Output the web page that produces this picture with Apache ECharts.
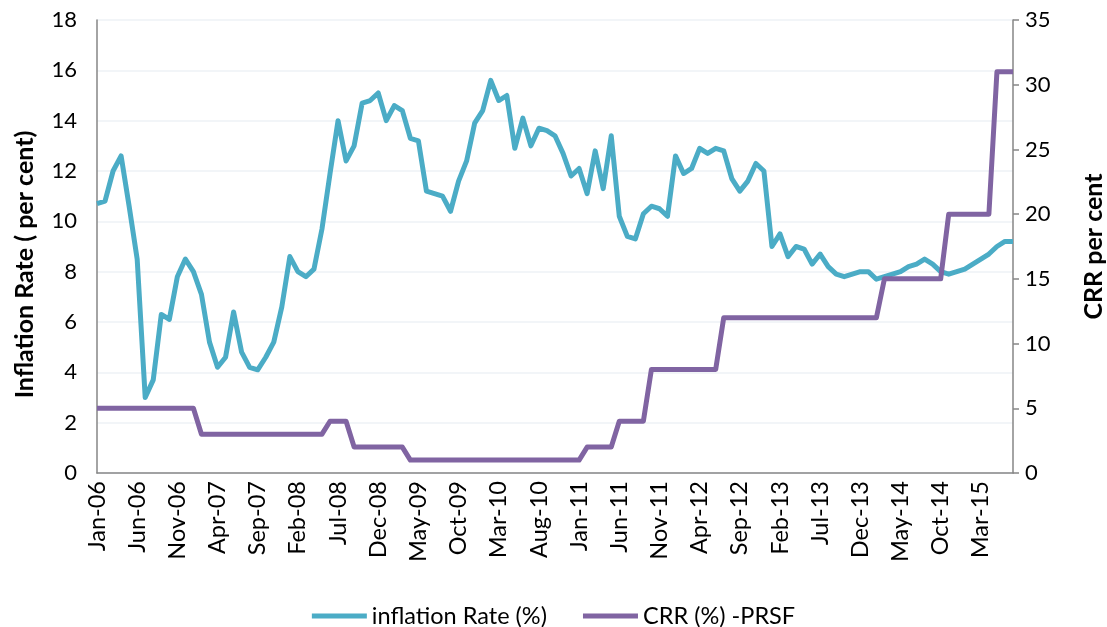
<!DOCTYPE html>
<html>
<head>
<meta charset="utf-8">
<script src="https://cdn.jsdelivr.net/npm/echarts@6/dist/echarts.min.js"></script>
<style>
html,body{margin:0;padding:0;background:#fff;}
#chart{width:1107px;height:627px;}
</style>
</head>
<body>
<div id="chart"></div>
<script>
const monthNames = ['Jan','Feb','Mar','Apr','May','Jun','Jul','Aug','Sep','Oct','Nov','Dec'];
const startYear = 2006;
const monthCount = 115; // Jan-06 .. Jul-15
const categories = [];
for (let i = 0; i < monthCount; i++) {
  const y = startYear + Math.floor(i / 12);
  categories.push(monthNames[i % 12] + '-' + String(y % 100).padStart(2, '0'));
}

const inflationRate = [
  10.7, 10.8, 12.0, 12.6, 10.6, 8.5, 3.0, 3.7, 6.3, 6.1, 7.8, 8.5,
  8.0, 7.1, 5.2, 4.2, 4.6, 6.4, 4.8, 4.2, 4.1, 4.6, 5.2, 6.6,
  8.6, 8.0, 7.8, 8.1, 9.7, 11.9, 14.0, 12.4, 13.0, 14.7, 14.8, 15.1,
  14.0, 14.6, 14.4, 13.3, 13.2, 11.2, 11.1, 11.0, 10.4, 11.6, 12.4, 13.9,
  14.4, 15.6, 14.8, 15.0, 12.9, 14.1, 13.0, 13.7, 13.6, 13.4, 12.7, 11.8,
  12.1, 11.1, 12.8, 11.3, 13.4, 10.2, 9.4, 9.3, 10.3, 10.6, 10.5, 10.2,
  12.6, 11.9, 12.1, 12.9, 12.7, 12.9, 12.8, 11.7, 11.2, 11.6, 12.3, 12.0,
  9.0, 9.5, 8.6, 9.0, 8.9, 8.3, 8.7, 8.2, 7.9, 7.8, 7.9, 8.0,
  8.0, 7.7, 7.8, 7.9, 8.0, 8.2, 8.3, 8.5, 8.3, 8.0, 7.9, 8.0,
  8.1, 8.3, 8.5, 8.7, 9.0, 9.2, 9.2
];

const crr = [
  5,5,5,5,5,5,5,5,5,5,5,5,5,
  3,3,3,3,3,3,3,3,3,3,3,3,3,3,3,3,
  4,4,4,
  2,2,2,2,2,2,2,
  1,1,1,1,1,1,1,1,1,1,1,1,1,1,1,1,1,1,1,1,1,1,
  2,2,2,2,
  4,4,4,4,
  8,8,8,8,8,8,8,8,8,
  12,12,12,12,12,12,12,12,12,12,12,12,12,12,12,12,12,12,12,12,
  15,15,15,15,15,15,15,15,
  20,20,20,20,20,20,
  31,31,31
];

const leftTicks = {min: 0, max: 18, interval: 2};
const rightTicks = {min: 0, max: 35, interval: 5};

const FONT = 'Lato, "Open Sans", "Liberation Sans", sans-serif';
const chart = echarts.init(document.getElementById('chart'), null, {renderer: 'canvas'});
chart.setOption({
  animation: false,
  backgroundColor: '#ffffff',
  textStyle: {fontFamily: FONT},
  grid: {left: 97, right: 94, top: 20, bottom: 154, containLabel: false, outerBoundsMode: 'none'},
  legend: {
    top: 599,
    left: 'center',
    icon: 'rect',
    itemWidth: 55,
    itemHeight: 5,
    itemGap: 36,
    textStyle: {fontSize: 23.5, color: '#000', fontFamily: FONT},
    data: ['inflation Rate (%)', 'CRR (%) -PRSF']
  },
  xAxis: {
    type: 'category',
    data: categories,
    boundaryGap: false,
    axisLine: {lineStyle: {color: '#868686', width: 1.5}},
    axisTick: {show: false},
    axisLabel: {interval: 4, rotate: 90, fontSize: 23.5, color: '#000', margin: 8, fontFamily: FONT},
    splitLine: {show: false}
  },
  yAxis: [
    {
      type: 'value',
      min: leftTicks.min, max: leftTicks.max, interval: leftTicks.interval,
      name: 'Inflation Rate ( per cent)',
      nameLocation: 'middle',
      nameRotate: 90,
      nameGap: 60,
      nameTextStyle: {fontSize: 25, fontWeight: 'bold', color: '#000', fontFamily: FONT, padding: [0, 36, 0, 0]},
      axisLine: {show: true, lineStyle: {color: '#868686', width: 1.5}},
      axisTick: {show: false},
      axisLabel: {fontSize: 22, color: '#000', margin: 20, fontFamily: FONT},
      splitLine: {show: true, lineStyle: {color: '#EEF2F6', width: 1.5}}
    },
    {
      type: 'value',
      position: 'right',
      min: rightTicks.min, max: rightTicks.max, interval: rightTicks.interval,
      name: 'CRR per cent',
      nameLocation: 'middle',
      nameRotate: 90,
      nameGap: 68,
      nameTextStyle: {fontSize: 25, fontWeight: 'bold', color: '#000', fontFamily: FONT},
      axisLine: {show: true, lineStyle: {color: '#868686', width: 1.5}},
      axisTick: {show: true, inside: false, length: 6, lineStyle: {color: '#868686', width: 1.5}},
      axisLabel: {fontSize: 22, color: '#000', margin: 12, fontFamily: FONT},
      splitLine: {show: false}
    }
  ],
  series: [
    {
      name: 'inflation Rate (%)',
      type: 'line',
      yAxisIndex: 0,
      data: inflationRate,
      symbol: 'none',
      smooth: false,
      lineStyle: {color: '#4BACC6', width: 5, join: 'round'},
      itemStyle: {color: '#4BACC6'}
    },
    {
      name: 'CRR (%) -PRSF',
      type: 'line',
      yAxisIndex: 1,
      data: crr,
      symbol: 'none',
      lineStyle: {color: '#8064A2', width: 5, join: 'round'},
      itemStyle: {color: '#8064A2'}
    }
  ]
});
</script>
</body>
</html>
